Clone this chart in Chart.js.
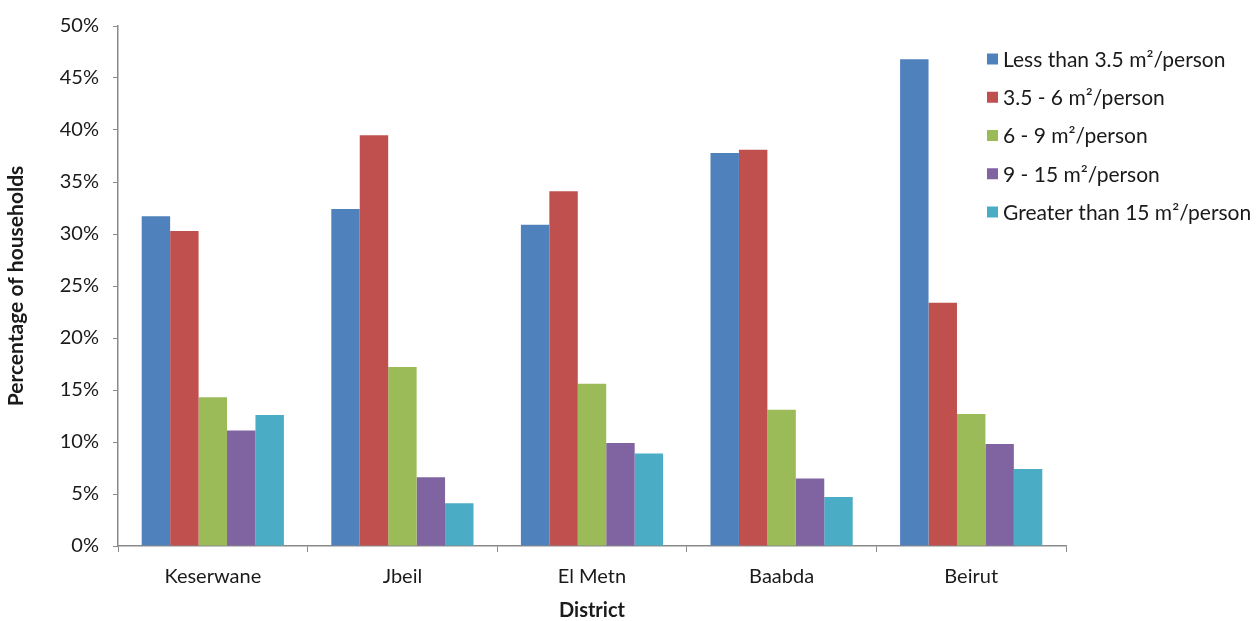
<!DOCTYPE html>
<html>
<head>
<meta charset="utf-8">
<script src="https://cdn.jsdelivr.net/npm/chart.js@4/dist/chart.umd.min.js"></script>
<style>
  html, body { margin: 0; padding: 0; background: #fff; }
  #wrap { position: relative; width: 1260px; height: 621px; }
</style>
</head>
<body>
<div id="wrap"><canvas id="chart" width="1260" height="621"></canvas></div>
<script>
// Household floor space per person, by district (percent of households)
const districts = ['Keserwane', 'Jbeil', 'El Metn', 'Baabda', 'Beirut'];
const seriesNames = [
  'Less than 3.5 m\u00B2/person',
  '3.5 - 6 m\u00B2/person',
  '6 - 9 m\u00B2/person',
  '9 - 15 m\u00B2/person',
  'Greater than 15 m\u00B2/person'
];
const lessThan3_5 = [31.7, 32.4, 30.9, 37.8, 46.8];
const from3_5to6  = [30.3, 39.5, 34.1, 38.1, 23.4];
const from6to9    = [14.3, 17.2, 15.6, 13.1, 12.7];
const from9to15   = [11.1, 6.6, 9.9, 6.5, 9.8];
const over15      = [12.6, 4.1, 8.9, 4.7, 7.4];
const yTicks = [0, 5, 10, 15, 20, 25, 30, 35, 40, 45, 50];

const colors = ['#4F81BD', '#C0504D', '#9BBB59', '#8064A2', '#4BACC6'];
const values = [lessThan3_5, from3_5to6, from6to9, from9to15, over15];

const FONT = 'Lato, "Open Sans", "DejaVu Sans", sans-serif';
const AXIS = '#8a8a8a';
const TEXT = '#1a1a1a';

// Legend drawn inside the plot's upper-right corner
const sideLegend = {
  id: 'sideLegend',
  afterDraw(chart) {
    const ctx = chart.ctx;
    const x0 = 987, y0 = 59, step = 38.25;
    ctx.save();
    ctx.font = '21px ' + FONT;
    ctx.textBaseline = 'middle';
    ctx.textAlign = 'left';
    chart.data.datasets.forEach((ds, i) => {
      const y = y0 + i * step;
      ctx.fillStyle = ds.backgroundColor;
      ctx.fillRect(x0, y - 5.5, 11, 11);
      ctx.fillStyle = TEXT;
      ctx.fillText(ds.label, x0 + 16, y + 1);
    });
    ctx.restore();
  }
};

new Chart(document.getElementById('chart'), {
  type: 'bar',
  data: {
    labels: districts,
    datasets: seriesNames.map((name, i) => ({
      label: name,
      data: values[i],
      backgroundColor: colors[i],
      borderWidth: 0,
      categoryPercentage: 0.75,
      barPercentage: 1.0
    }))
  },
  options: {
    responsive: false,
    animation: false,
    layout: { padding: { top: 22, right: 194, bottom: 0, left: 4 } },
    plugins: {
      legend: { display: false },
      tooltip: { enabled: false }
    },
    scales: {
      x: {
        afterFit(scale) { scale.height = 75; },
        grid: {
          display: true,
          offset: true,
          drawOnChartArea: false,
          drawTicks: true,
          tickLength: 6,
          color: AXIS
        },
        border: { display: true, color: AXIS, width: 1.5 },
        ticks: { color: TEXT, font: { family: FONT, size: 20 }, padding: 13 },
        title: {
          display: true,
          text: 'District',
          color: TEXT,
          font: { family: FONT, size: 20, weight: 'bold', lineHeight: 1.0 },
          padding: { top: 0, bottom: 0 }
        }
      },
      y: {
        min: 0,
        max: 50,
        afterFit(scale) { scale.width = 114; },
        afterBuildTicks(scale) { scale.ticks = yTicks.map(v => ({ value: v })); },
        grid: {
          display: true,
          drawOnChartArea: false,
          drawTicks: true,
          tickLength: 5,
          color: AXIS
        },
        border: { display: true, color: AXIS, width: 1.5 },
        ticks: {
          color: TEXT,
          font: { family: FONT, size: 20 },
          padding: 14,
          callback: v => v + '%'
        },
        title: {
          display: true,
          text: 'Percentage of households',
          color: TEXT,
          font: { family: FONT, size: 21, weight: 'bold', lineHeight: 1.2 },
          padding: { top: 0, bottom: 0 }
        }
      }
    }
  },
  plugins: [sideLegend]
});
</script>
</body>
</html>
